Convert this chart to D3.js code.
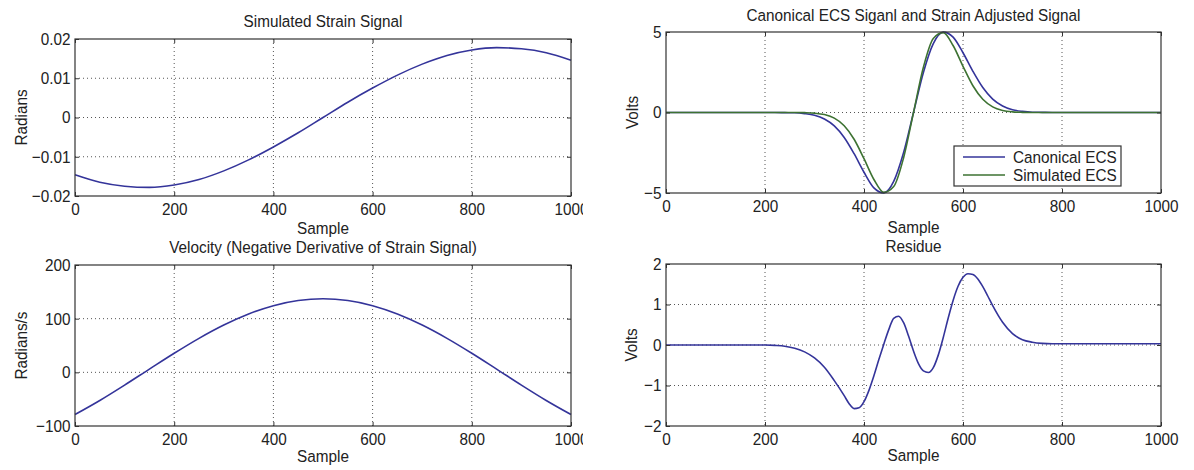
<!DOCTYPE html>
<html>
<head>
<meta charset="utf-8">
<script src="https://cdn.jsdelivr.net/npm/d3@7"></script>
<style>
  body { margin: 0; background: #fff; }
  svg { display: block; background: #fff; }
  text { font-family: "Liberation Sans", Arial, Helvetica, sans-serif; fill: #222; }
</style>
</head>
<body>
<svg></svg>
<script>
const svg = d3.select('svg')
    .attr('width', 1194)
    .attr('height', 470);

// ---- data ----
const sampleTicks = [0, 200, 400, 600, 800, 1000];
const strainTicks = [-0.02, -0.01, 0, 0.01, 0.02];
const velocityTicks = [-100, 0, 100, 200];
const voltTicks = [-5, 0, 5];
const residueTicks = [-2, -1, 0, 1, 2];

const waveX = [0, 50, 100, 150, 200, 250, 300, 350, 400, 450, 500, 550, 600, 650, 700, 750, 800, 850, 900, 950, 1000];
const strain = [-0.0146, -0.0165, -0.0175, -0.0178, -0.0172, -0.0158, -0.0136, -0.0108, -0.0075, -0.0039, 0,
    0.0039, 0.0075, 0.0108, 0.0136, 0.0158, 0.0172, 0.0178, 0.0175, 0.0165, 0.0146];
const velocity = [-78.6, -52.4, -23.8, 6.0, 35.5, 63.3, 88.1, 108.7, 124.2, 133.7, 137,
    133.7, 124.2, 108.7, 88.1, 63.3, 35.5, 6.0, -23.8, -52.4, -78.6];

const ecsX = [0, 100, 200, 220, 240, 260, 280, 300, 320, 340, 360, 380, 400, 420, 440, 460, 480, 500,
    520, 540, 560, 580, 600, 620, 640, 660, 680, 700, 720, 740, 760, 780, 800, 900, 1000];
const canonicalECS = [0, 0, 0, 0, -0.01, -0.02, -0.07, -0.17, -0.40, -0.83, -1.55, -2.56, -3.71, -4.68, -4.99, -4.28, -2.49, 0,
    2.49, 4.28, 4.99, 4.68, 3.71, 2.56, 1.55, 0.83, 0.40, 0.17, 0.07, 0.02, 0.01, 0, 0, 0, 0];
const simulatedECS = [0, 0, 0, 0, 0, 0, -0.01, -0.04, -0.13, -0.35, -0.82, -1.66, -2.87, -4.16, -4.96, -4.60, -2.81, 0,
    2.81, 4.60, 4.96, 4.16, 2.87, 1.66, 0.82, 0.35, 0.13, 0.04, 0.01, 0, 0, 0, 0, 0, 0];

const residueX = [0, 100, 200, 220, 240, 260, 280, 300, 320, 340, 360, 370, 380, 390, 400, 410, 420, 430, 440, 450,
    460, 470, 480, 490, 500, 510, 520, 530, 540, 550, 560, 570, 580, 590, 600, 610, 620, 630, 640, 650,
    660, 680, 700, 720, 740, 760, 780, 800, 900, 1000];
const residue = [0, 0, 0, -0.01, -0.03, -0.08, -0.17, -0.32, -0.55, -0.88, -1.25, -1.45, -1.57, -1.55, -1.40, -1.12, -0.76, -0.36, 0.02, 0.38,
    0.66, 0.71, 0.55, 0.22, -0.15, -0.46, -0.64, -0.68, -0.56, -0.25, 0.18, 0.66, 1.10, 1.45, 1.67, 1.76, 1.74, 1.63, 1.44, 1.21,
    0.97, 0.56, 0.28, 0.13, 0.07, 0.04, 0.03, 0.03, 0.03, 0.03];

const legendText = ['Canonical ECS', 'Simulated ECS'];

const blue = '#34349a';
const green = '#3d7232';

// ---- layout of the four subplots ----
const panels = [
    { left: 75, right: 571, top: 39, bottom: 196, yDomain: [-0.02, 0.02], yTicks: strainTicks,
      title: 'Simulated Strain Signal', titleY: 27, xLabelY: 234, yLabel: 'Radians', yLabelX: 27, clip: true,
      series: [{ x: waveX, y: strain, color: blue }] },
    { left: 75, right: 571, top: 265, bottom: 426, yDomain: [-100, 200], yTicks: velocityTicks,
      title: 'Velocity (Negative Derivative of Strain Signal)', titleY: 253, xLabelY: 462, yLabel: 'Radians/s', yLabelX: 27, clip: true,
      series: [{ x: waveX, y: velocity, color: blue }] },
    { left: 666, right: 1161, top: 32, bottom: 193, yDomain: [-5, 5], yTicks: voltTicks,
      title: 'Canonical ECS Siganl and Strain Adjusted Signal', titleY: 21, xLabelY: 233, yLabel: 'Volts', yLabelX: 638, legend: true,
      series: [{ x: ecsX, y: canonicalECS, color: blue }, { x: ecsX, y: simulatedECS, color: green }] },
    { left: 666, right: 1161, top: 264, bottom: 426, yDomain: [-2, 2], yTicks: residueTicks,
      title: 'Residue', titleY: 252, xLabelY: 461, yLabel: 'Volts', yLabelX: 637,
      series: [{ x: residueX, y: residue, color: blue }] }
];

// the scanned left half is cut off just past the last tick label
svg.append('defs').append('clipPath')
    .attr('id', 'leftClip')
    .append('rect')
    .attr('x', 0).attr('y', 0)
    .attr('width', 583).attr('height', 470);

const fmt = d => d === 0 ? '0' : String(d).replace('-', '\u2212');

function label(g, x, y, str, rotate) {
    return g.append('text')
        .attr('transform', `translate(${x},${y})` + (rotate ? ' rotate(-90)' : '') + ' scale(0.9,1)')
        .attr('text-anchor', 'middle')
        .style('font-size', '17px')
        .text(str);
}

function styleAxis(a) {
    a.attr('font-size', null).attr('font-family', null).attr('color', '#333');
    a.select('.domain').remove();
    a.selectAll('text')
        .style('font-size', '17px')
        .attr('transform', 'scale(0.9,1)')
        .attr('fill', '#222');
}

panels.forEach(p => {
    const g = svg.append('g').attr('clip-path', p.clip ? 'url(#leftClip)' : null);

    const x = d3.scaleLinear().domain([0, 1000]).range([p.left, p.right]);
    const y = d3.scaleLinear().domain(p.yDomain).range([p.bottom, p.top]);

    // dotted grid
    g.selectAll('.vgrid')
        .data(sampleTicks.slice(1, -1))
        .enter()
        .append('line')
        .attr('x1', d => x(d)).attr('x2', d => x(d))
        .attr('y1', p.top).attr('y2', p.bottom)
        .attr('stroke', '#555')
        .attr('stroke-width', 1)
        .attr('stroke-dasharray', '1,3');

    g.selectAll('.hgrid')
        .data(p.yTicks.slice(1, -1))
        .enter()
        .append('line')
        .attr('x1', p.left).attr('x2', p.right)
        .attr('y1', d => y(d)).attr('y2', d => y(d))
        .attr('stroke', '#555')
        .attr('stroke-width', 1)
        .attr('stroke-dasharray', '1,3');

    // signal lines
    const line = d3.line()
        .x(d => x(d[0]))
        .y(d => y(d[1]))
        .curve(d3.curveMonotoneX);

    p.series.forEach(s => {
        g.append('path')
            .datum(d3.zip(s.x, s.y))
            .attr('d', line)
            .attr('fill', 'none')
            .attr('stroke', s.color)
            .attr('stroke-width', 1.6);
    });

    // axes with inward ticks
    g.append('g')
        .attr('transform', `translate(0,${p.bottom})`)
        .call(d3.axisBottom(x).tickValues(sampleTicks).tickSize(-4).tickPadding(7).tickFormat(d3.format('d')))
        .call(styleAxis);

    g.append('g')
        .attr('transform', `translate(0,${p.top})`)
        .call(d3.axisTop(x).tickValues(sampleTicks).tickSize(-4).tickFormat(''))
        .call(styleAxis);

    g.append('g')
        .attr('transform', `translate(${p.left},0)`)
        .call(d3.axisLeft(y).tickValues(p.yTicks).tickSize(-4).tickPadding(5).tickFormat(fmt))
        .call(styleAxis);

    g.append('g')
        .attr('transform', `translate(${p.right},0)`)
        .call(d3.axisRight(y).tickValues(p.yTicks).tickSize(-4).tickFormat(''))
        .call(styleAxis);

    // box
    g.append('rect')
        .attr('x', p.left).attr('y', p.top)
        .attr('width', p.right - p.left)
        .attr('height', p.bottom - p.top)
        .attr('fill', 'none')
        .attr('stroke', '#333')
        .attr('stroke-width', 1.2);

    // texts
    label(g, (p.left + p.right) / 2, p.titleY, p.title);
    label(g, (p.left + p.right) / 2, p.xLabelY, 'Sample');
    label(g, p.yLabelX, (p.top + p.bottom) / 2, p.yLabel, true);

    // legend
    if (p.legend) {
        const lg = g.append('g');
        lg.append('rect')
            .attr('x', 954).attr('y', 146)
            .attr('width', 167).attr('height', 40)
            .attr('fill', '#fff')
            .attr('stroke', '#333')
            .attr('stroke-width', 1.2);

        lg.selectAll('.legend-line')
            .data(legendText)
            .enter()
            .append('line')
            .attr('x1', 963).attr('x2', 1005)
            .attr('y1', (d, i) => 157 + i * 18)
            .attr('y2', (d, i) => 157 + i * 18)
            .attr('stroke', (d, i) => p.series[i].color)
            .attr('stroke-width', 1.6);

        lg.selectAll('.legend-text')
            .data(legendText)
            .enter()
            .append('text')
            .attr('transform', (d, i) => `translate(1013,${163 + i * 18}) scale(0.9,1)`)
            .style('font-size', '17px')
            .text(d => d);
    }
});
</script>
</body>
</html>
